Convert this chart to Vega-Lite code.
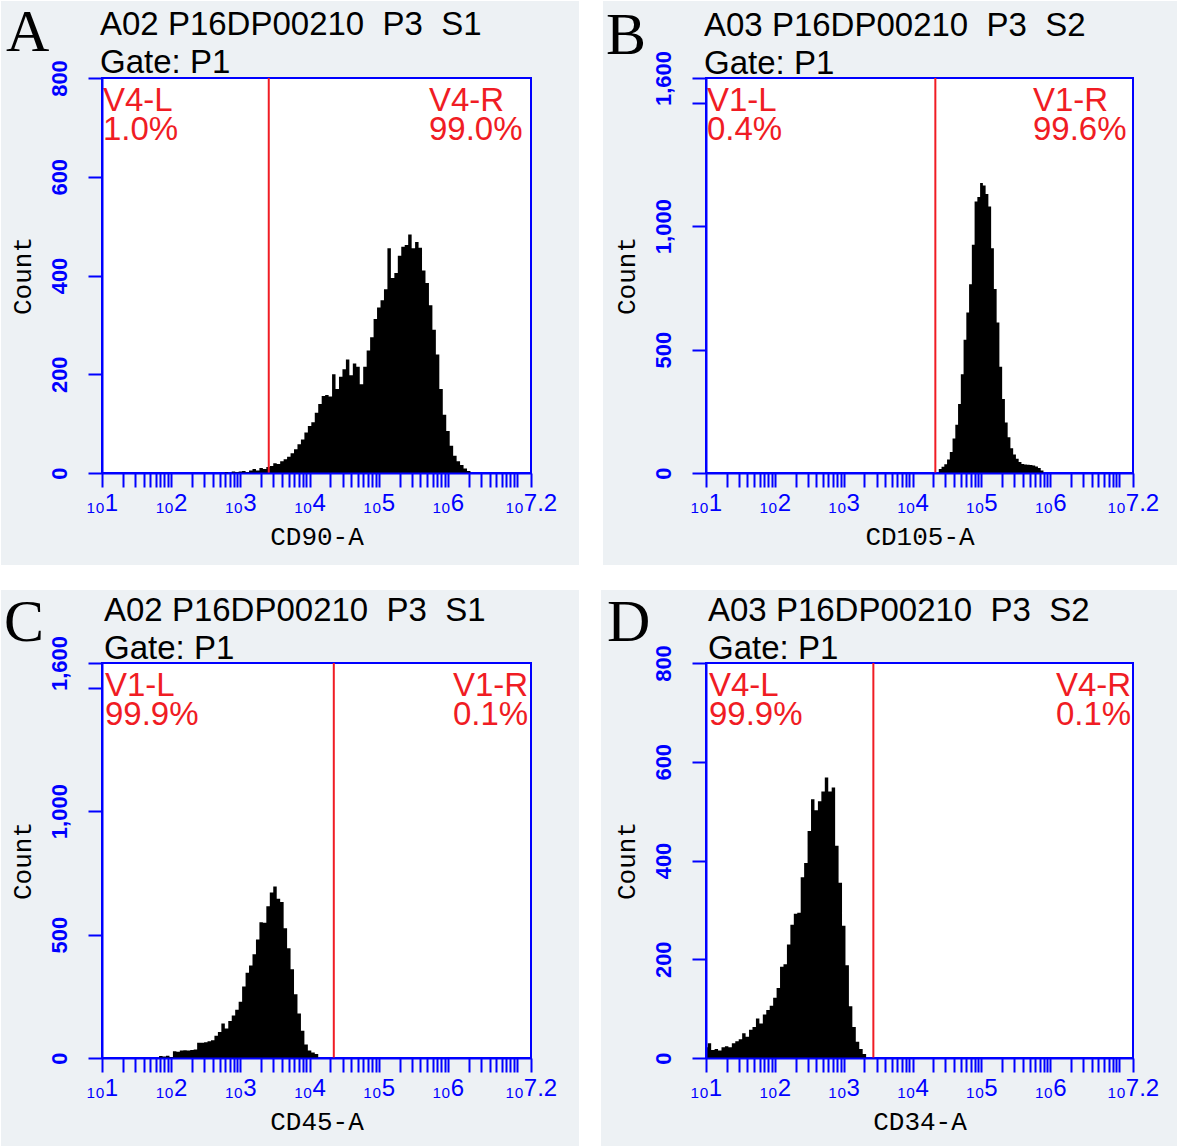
{
  "$schema": "https://vega.github.io/schema/vega-lite/v6.json",
  "autosize": {"type": "pad"},
  "padding": 0,
  "background": "white",
  "bounds": "flush",
  "columns": 2,
  "spacing": {"row": 190, "column": 175},
  "datasets": {
    "histA": [
      {"decade": 2.75, "count": 0}, {"decade": 2.80, "count": 2}, {"decade": 2.85, "count": 0}, {"decade": 2.90, "count": 3},
      {"decade": 2.95, "count": 2}, {"decade": 3.00, "count": 3}, {"decade": 3.05, "count": 4}, {"decade": 3.10, "count": 2},
      {"decade": 3.15, "count": 5}, {"decade": 3.20, "count": 8}, {"decade": 3.25, "count": 5}, {"decade": 3.30, "count": 10},
      {"decade": 3.35, "count": 8}, {"decade": 3.40, "count": 12}, {"decade": 3.45, "count": 14}, {"decade": 3.50, "count": 20},
      {"decade": 3.55, "count": 18}, {"decade": 3.60, "count": 24}, {"decade": 3.65, "count": 28}, {"decade": 3.70, "count": 33},
      {"decade": 3.75, "count": 40}, {"decade": 3.80, "count": 48}, {"decade": 3.85, "count": 58}, {"decade": 3.90, "count": 68},
      {"decade": 3.95, "count": 82}, {"decade": 4.00, "count": 95}, {"decade": 4.05, "count": 103}, {"decade": 4.10, "count": 122},
      {"decade": 4.15, "count": 140}, {"decade": 4.20, "count": 156}, {"decade": 4.25, "count": 158}, {"decade": 4.30, "count": 155},
      {"decade": 4.35, "count": 200}, {"decade": 4.40, "count": 170}, {"decade": 4.45, "count": 195}, {"decade": 4.50, "count": 210},
      {"decade": 4.55, "count": 230}, {"decade": 4.60, "count": 198}, {"decade": 4.65, "count": 222}, {"decade": 4.70, "count": 215},
      {"decade": 4.75, "count": 180}, {"decade": 4.80, "count": 215}, {"decade": 4.85, "count": 248}, {"decade": 4.90, "count": 275},
      {"decade": 4.95, "count": 312}, {"decade": 5.00, "count": 335}, {"decade": 5.05, "count": 350}, {"decade": 5.10, "count": 372},
      {"decade": 5.15, "count": 455}, {"decade": 5.20, "count": 395}, {"decade": 5.25, "count": 405}, {"decade": 5.30, "count": 440},
      {"decade": 5.35, "count": 458}, {"decade": 5.40, "count": 462}, {"decade": 5.45, "count": 483}, {"decade": 5.50, "count": 455},
      {"decade": 5.55, "count": 468}, {"decade": 5.60, "count": 456}, {"decade": 5.65, "count": 410}, {"decade": 5.70, "count": 385},
      {"decade": 5.75, "count": 340}, {"decade": 5.80, "count": 290}, {"decade": 5.85, "count": 240}, {"decade": 5.90, "count": 170},
      {"decade": 5.95, "count": 118}, {"decade": 6.00, "count": 85}, {"decade": 6.05, "count": 55}, {"decade": 6.10, "count": 35},
      {"decade": 6.15, "count": 24}, {"decade": 6.20, "count": 16}, {"decade": 6.25, "count": 9}, {"decade": 6.30, "count": 4},
      {"decade": 6.35, "count": 0}
    ],
    "histB": [
      {"decade": 4.36, "count": 0}, {"decade": 4.40, "count": 16}, {"decade": 4.44, "count": 25}, {"decade": 4.48, "count": 35},
      {"decade": 4.52, "count": 55}, {"decade": 4.56, "count": 85}, {"decade": 4.60, "count": 140}, {"decade": 4.64, "count": 195},
      {"decade": 4.68, "count": 280}, {"decade": 4.72, "count": 400}, {"decade": 4.76, "count": 540}, {"decade": 4.80, "count": 650},
      {"decade": 4.84, "count": 765}, {"decade": 4.88, "count": 925}, {"decade": 4.92, "count": 1100}, {"decade": 4.96, "count": 1118},
      {"decade": 5.00, "count": 1175}, {"decade": 5.04, "count": 1165}, {"decade": 5.08, "count": 1130}, {"decade": 5.12, "count": 1080},
      {"decade": 5.16, "count": 910}, {"decade": 5.20, "count": 745}, {"decade": 5.24, "count": 610}, {"decade": 5.28, "count": 430},
      {"decade": 5.32, "count": 300}, {"decade": 5.36, "count": 205}, {"decade": 5.40, "count": 145}, {"decade": 5.44, "count": 100},
      {"decade": 5.48, "count": 75}, {"decade": 5.52, "count": 58}, {"decade": 5.56, "count": 45}, {"decade": 5.60, "count": 36},
      {"decade": 5.64, "count": 34}, {"decade": 5.68, "count": 33}, {"decade": 5.72, "count": 32}, {"decade": 5.76, "count": 30},
      {"decade": 5.80, "count": 26}, {"decade": 5.84, "count": 20}, {"decade": 5.88, "count": 10}, {"decade": 5.92, "count": 0}
    ],
    "histC": [
      {"decade": 1.80, "count": 0}, {"decade": 1.85, "count": 8}, {"decade": 1.90, "count": 6}, {"decade": 1.95, "count": 9},
      {"decade": 2.00, "count": 4}, {"decade": 2.05, "count": 27}, {"decade": 2.10, "count": 25}, {"decade": 2.15, "count": 30},
      {"decade": 2.20, "count": 31}, {"decade": 2.25, "count": 30}, {"decade": 2.30, "count": 32}, {"decade": 2.35, "count": 34},
      {"decade": 2.40, "count": 62}, {"decade": 2.45, "count": 62}, {"decade": 2.50, "count": 64}, {"decade": 2.55, "count": 68},
      {"decade": 2.60, "count": 72}, {"decade": 2.65, "count": 90}, {"decade": 2.70, "count": 105}, {"decade": 2.75, "count": 140},
      {"decade": 2.80, "count": 120}, {"decade": 2.85, "count": 150}, {"decade": 2.90, "count": 172}, {"decade": 2.95, "count": 195},
      {"decade": 3.00, "count": 228}, {"decade": 3.05, "count": 290}, {"decade": 3.10, "count": 345}, {"decade": 3.15, "count": 375},
      {"decade": 3.20, "count": 420}, {"decade": 3.25, "count": 480}, {"decade": 3.30, "count": 550}, {"decade": 3.35, "count": 548},
      {"decade": 3.40, "count": 615}, {"decade": 3.45, "count": 670}, {"decade": 3.50, "count": 695}, {"decade": 3.55, "count": 645},
      {"decade": 3.60, "count": 632}, {"decade": 3.65, "count": 526}, {"decade": 3.70, "count": 445}, {"decade": 3.75, "count": 360},
      {"decade": 3.80, "count": 258}, {"decade": 3.85, "count": 180}, {"decade": 3.90, "count": 110}, {"decade": 3.95, "count": 55},
      {"decade": 4.00, "count": 30}, {"decade": 4.05, "count": 22}, {"decade": 4.10, "count": 16}, {"decade": 4.15, "count": 0}
    ],
    "histD": [
      {"decade": 1.00, "count": 22}, {"decade": 1.05, "count": 30}, {"decade": 1.10, "count": 16}, {"decade": 1.15, "count": 18},
      {"decade": 1.20, "count": 15}, {"decade": 1.25, "count": 22}, {"decade": 1.30, "count": 24}, {"decade": 1.35, "count": 22},
      {"decade": 1.40, "count": 30}, {"decade": 1.45, "count": 34}, {"decade": 1.50, "count": 38}, {"decade": 1.55, "count": 50},
      {"decade": 1.60, "count": 43}, {"decade": 1.65, "count": 57}, {"decade": 1.70, "count": 63}, {"decade": 1.75, "count": 80},
      {"decade": 1.80, "count": 70}, {"decade": 1.85, "count": 88}, {"decade": 1.90, "count": 97}, {"decade": 1.95, "count": 106},
      {"decade": 2.00, "count": 122}, {"decade": 2.05, "count": 142}, {"decade": 2.10, "count": 185}, {"decade": 2.15, "count": 190},
      {"decade": 2.20, "count": 230}, {"decade": 2.25, "count": 270}, {"decade": 2.30, "count": 292}, {"decade": 2.35, "count": 294},
      {"decade": 2.40, "count": 366}, {"decade": 2.45, "count": 395}, {"decade": 2.50, "count": 460}, {"decade": 2.55, "count": 524},
      {"decade": 2.60, "count": 502}, {"decade": 2.65, "count": 520}, {"decade": 2.70, "count": 540}, {"decade": 2.75, "count": 568},
      {"decade": 2.80, "count": 540}, {"decade": 2.85, "count": 548}, {"decade": 2.90, "count": 430}, {"decade": 2.95, "count": 355},
      {"decade": 3.00, "count": 268}, {"decade": 3.05, "count": 188}, {"decade": 3.10, "count": 105}, {"decade": 3.15, "count": 63},
      {"decade": 3.20, "count": 33}, {"decade": 3.25, "count": 18}, {"decade": 3.30, "count": 8}, {"decade": 3.35, "count": 0}
    ]
  },
  "concat": [
    {
      "width": 429, "height": 395,
      "layer": [
        {"data": {"values": [{}]}, "mark": {"type": "rect", "fill": "#edf1f4"},
         "encoding": {"x": {"datum": -0.46, "type": "quantitative", "scale": {"domain": [1, 7.2], "nice": false, "zero": false}}, "x2": {"datum": 7.894},
                      "y": {"datum": -186.3, "type": "quantitative", "scale": {"domain": [0, 800], "nice": false, "zero": false}}, "y2": {"datum": 955.9}}},
        {"data": {"values": [{}]}, "mark": {"type": "rect", "fill": "white", "stroke": "#0000ff", "strokeWidth": 2},
         "encoding": {"x": {"datum": 1, "type": "quantitative", "scale": {"domain": [1, 7.2], "nice": false, "zero": false}}, "x2": {"datum": 7.2},
                      "y": {"datum": 0, "type": "quantitative", "scale": {"domain": [0, 800], "nice": false, "zero": false}}, "y2": {"datum": 800}}},
        {"data": {"name": "histA"}, "mark": {"type": "area", "interpolate": "step", "fill": "black", "opacity": 1},
         "encoding": {
           "x": {"field": "decade", "type": "quantitative", "scale": {"domain": [1, 7.2], "nice": false, "zero": false},
                 "axis": {"zindex": 2, "tickCount": 200, "title": "CD90-A", "values": [1,1.30103,1.47712,1.60206,1.69897,1.77815,1.8451,1.90309,1.95424,2,2.30103,2.47712,2.60206,2.69897,2.77815,2.8451,2.90309,2.95424,3,3.30103,3.47712,3.60206,3.69897,3.77815,3.8451,3.90309,3.95424,4,4.30103,4.47712,4.60206,4.69897,4.77815,4.8451,4.90309,4.95424,5,5.30103,5.47712,5.60206,5.69897,5.77815,5.8451,5.90309,5.95424,6,6.30103,6.47712,6.60206,6.69897,6.77815,6.8451,6.90309,6.95424,7,7.2],
                          "labelExpr": "(datum.value == floor(datum.value) && datum.value < 7) || datum.value == 7.2 ? '\u2081\u2080' + datum.value : ''"}},
           "y": {"field": "count", "type": "quantitative", "scale": {"domain": [0, 800], "nice": false, "zero": false},
                 "axis": {"zindex": 2, "title": "Count", "values": [0, 200, 400, 600, 800], "format": ",d"}}}},
        {"data": {"values": [{}]}, "mark": {"type": "rule", "stroke": "#f01c24", "strokeWidth": 2},
         "encoding": {"x": {"datum": 3.41, "type": "quantitative", "scale": {"domain": [1, 7.2], "nice": false, "zero": false}}}},
        {"data": {"values": [{}]}, "mark": {"type": "text", "text": "A", "font": "Liberation Serif", "fontSize": 60, "align": "left", "baseline": "alphabetic", "dx": -96, "dy": -27, "fill": "black"},
         "encoding": {"x": {"datum": 1, "type": "quantitative", "scale": {"domain": [1, 7.2], "nice": false, "zero": false}},
                      "y": {"datum": 800, "type": "quantitative", "scale": {"domain": [0, 800], "nice": false, "zero": false}}}},
        {"data": {"values": [{}]}, "mark": {"type": "text", "text": ["A02 P16DP00210 \u00a0P3 \u00a0S1", "Gate: P1"], "font": "Liberation Sans", "fontSize": 33, "lineHeight": 38, "align": "left", "baseline": "alphabetic", "dx": -2, "dy": -43, "fill": "black"},
         "encoding": {"x": {"datum": 1, "type": "quantitative", "scale": {"domain": [1, 7.2], "nice": false, "zero": false}},
                      "y": {"datum": 800, "type": "quantitative", "scale": {"domain": [0, 800], "nice": false, "zero": false}}}},
        {"data": {"values": [{}]}, "mark": {"type": "text", "text": ["V4-L", "1.0%"], "font": "Liberation Sans", "fontSize": 33, "lineHeight": 29, "align": "left", "baseline": "alphabetic", "dx": 1, "dy": 33, "fill": "#f01c24"},
         "encoding": {"x": {"datum": 1, "type": "quantitative", "scale": {"domain": [1, 7.2], "nice": false, "zero": false}},
                      "y": {"datum": 800, "type": "quantitative", "scale": {"domain": [0, 800], "nice": false, "zero": false}}}},
        {"data": {"values": [{}]}, "mark": {"type": "text", "text": ["V4-R", "99.0%"], "font": "Liberation Sans", "fontSize": 33, "lineHeight": 29, "align": "left", "baseline": "alphabetic", "dx": -102, "dy": 33, "fill": "#f01c24"},
         "encoding": {"x": {"datum": 7.2, "type": "quantitative", "scale": {"domain": [1, 7.2], "nice": false, "zero": false}},
                      "y": {"datum": 800, "type": "quantitative", "scale": {"domain": [0, 800], "nice": false, "zero": false}}}}
      ]
    },
    {
      "width": 427, "height": 395,
      "layer": [
        {"data": {"values": [{}]}, "mark": {"type": "rect", "fill": "#edf1f4"},
         "encoding": {"x": {"datum": -0.496, "type": "quantitative", "scale": {"domain": [1, 7.2], "nice": false, "zero": false}}, "x2": {"datum": 7.839},
                      "y": {"datum": -372.7, "type": "quantitative", "scale": {"domain": [0, 1600], "nice": false, "zero": false}}, "y2": {"datum": 1911.9}}},
        {"data": {"values": [{}]}, "mark": {"type": "rect", "fill": "white", "stroke": "#0000ff", "strokeWidth": 2},
         "encoding": {"x": {"datum": 1, "type": "quantitative", "scale": {"domain": [1, 7.2], "nice": false, "zero": false}}, "x2": {"datum": 7.2},
                      "y": {"datum": 0, "type": "quantitative", "scale": {"domain": [0, 1600], "nice": false, "zero": false}}, "y2": {"datum": 1600}}},
        {"data": {"name": "histB"}, "mark": {"type": "area", "interpolate": "step", "fill": "black", "opacity": 1},
         "encoding": {
           "x": {"field": "decade", "type": "quantitative", "scale": {"domain": [1, 7.2], "nice": false, "zero": false},
                 "axis": {"zindex": 2, "tickCount": 200, "title": "CD105-A", "values": [1,1.30103,1.47712,1.60206,1.69897,1.77815,1.8451,1.90309,1.95424,2,2.30103,2.47712,2.60206,2.69897,2.77815,2.8451,2.90309,2.95424,3,3.30103,3.47712,3.60206,3.69897,3.77815,3.8451,3.90309,3.95424,4,4.30103,4.47712,4.60206,4.69897,4.77815,4.8451,4.90309,4.95424,5,5.30103,5.47712,5.60206,5.69897,5.77815,5.8451,5.90309,5.95424,6,6.30103,6.47712,6.60206,6.69897,6.77815,6.8451,6.90309,6.95424,7,7.2],
                          "labelExpr": "(datum.value == floor(datum.value) && datum.value < 7) || datum.value == 7.2 ? '\u2081\u2080' + datum.value : ''"}},
           "y": {"field": "count", "type": "quantitative", "scale": {"domain": [0, 1600], "nice": false, "zero": false},
                 "axis": {"zindex": 2, "title": "Count", "values": [0, 500, 1000, 1500, 1600], "format": ",d", "labelExpr": "datum.value == 1500 ? '' : datum.label"}}}},
        {"data": {"values": [{}]}, "mark": {"type": "rule", "stroke": "#f01c24", "strokeWidth": 2},
         "encoding": {"x": {"datum": 4.33, "type": "quantitative", "scale": {"domain": [1, 7.2], "nice": false, "zero": false}}}},
        {"data": {"values": [{}]}, "mark": {"type": "text", "text": "B", "font": "Liberation Serif", "fontSize": 60, "align": "left", "baseline": "alphabetic", "dx": -100, "dy": -24, "fill": "black"},
         "encoding": {"x": {"datum": 1, "type": "quantitative", "scale": {"domain": [1, 7.2], "nice": false, "zero": false}},
                      "y": {"datum": 1600, "type": "quantitative", "scale": {"domain": [0, 1600], "nice": false, "zero": false}}}},
        {"data": {"values": [{}]}, "mark": {"type": "text", "text": ["A03 P16DP00210 \u00a0P3 \u00a0S2", "Gate: P1"], "font": "Liberation Sans", "fontSize": 33, "lineHeight": 38, "align": "left", "baseline": "alphabetic", "dx": -2, "dy": -42, "fill": "black"},
         "encoding": {"x": {"datum": 1, "type": "quantitative", "scale": {"domain": [1, 7.2], "nice": false, "zero": false}},
                      "y": {"datum": 1600, "type": "quantitative", "scale": {"domain": [0, 1600], "nice": false, "zero": false}}}},
        {"data": {"values": [{}]}, "mark": {"type": "text", "text": ["V1-L", "0.4%"], "font": "Liberation Sans", "fontSize": 33, "lineHeight": 29, "align": "left", "baseline": "alphabetic", "dx": 1, "dy": 33, "fill": "#f01c24"},
         "encoding": {"x": {"datum": 1, "type": "quantitative", "scale": {"domain": [1, 7.2], "nice": false, "zero": false}},
                      "y": {"datum": 1600, "type": "quantitative", "scale": {"domain": [0, 1600], "nice": false, "zero": false}}}},
        {"data": {"values": [{}]}, "mark": {"type": "text", "text": ["V1-R", "99.6%"], "font": "Liberation Sans", "fontSize": 33, "lineHeight": 29, "align": "left", "baseline": "alphabetic", "dx": -100, "dy": 33, "fill": "#f01c24"},
         "encoding": {"x": {"datum": 7.2, "type": "quantitative", "scale": {"domain": [1, 7.2], "nice": false, "zero": false}},
                      "y": {"datum": 1600, "type": "quantitative", "scale": {"domain": [0, 1600], "nice": false, "zero": false}}}}
      ]
    },
    {
      "width": 429, "height": 395,
      "layer": [
        {"data": {"values": [{}]}, "mark": {"type": "rect", "fill": "#edf1f4"},
         "encoding": {"x": {"datum": -0.46, "type": "quantitative", "scale": {"domain": [1, 7.2], "nice": false, "zero": false}}, "x2": {"datum": 7.894},
                      "y": {"datum": -356.5, "type": "quantitative", "scale": {"domain": [0, 1600], "nice": false, "zero": false}}, "y2": {"datum": 1895.7}}},
        {"data": {"values": [{}]}, "mark": {"type": "rect", "fill": "white", "stroke": "#0000ff", "strokeWidth": 2},
         "encoding": {"x": {"datum": 1, "type": "quantitative", "scale": {"domain": [1, 7.2], "nice": false, "zero": false}}, "x2": {"datum": 7.2},
                      "y": {"datum": 0, "type": "quantitative", "scale": {"domain": [0, 1600], "nice": false, "zero": false}}, "y2": {"datum": 1600}}},
        {"data": {"name": "histC"}, "mark": {"type": "area", "interpolate": "step", "fill": "black", "opacity": 1},
         "encoding": {
           "x": {"field": "decade", "type": "quantitative", "scale": {"domain": [1, 7.2], "nice": false, "zero": false},
                 "axis": {"zindex": 2, "tickCount": 200, "title": "CD45-A", "values": [1,1.30103,1.47712,1.60206,1.69897,1.77815,1.8451,1.90309,1.95424,2,2.30103,2.47712,2.60206,2.69897,2.77815,2.8451,2.90309,2.95424,3,3.30103,3.47712,3.60206,3.69897,3.77815,3.8451,3.90309,3.95424,4,4.30103,4.47712,4.60206,4.69897,4.77815,4.8451,4.90309,4.95424,5,5.30103,5.47712,5.60206,5.69897,5.77815,5.8451,5.90309,5.95424,6,6.30103,6.47712,6.60206,6.69897,6.77815,6.8451,6.90309,6.95424,7,7.2],
                          "labelExpr": "(datum.value == floor(datum.value) && datum.value < 7) || datum.value == 7.2 ? '\u2081\u2080' + datum.value : ''"}},
           "y": {"field": "count", "type": "quantitative", "scale": {"domain": [0, 1600], "nice": false, "zero": false},
                 "axis": {"zindex": 2, "title": "Count", "values": [0, 500, 1000, 1500, 1600], "format": ",d", "labelExpr": "datum.value == 1500 ? '' : datum.label"}}}},
        {"data": {"values": [{}]}, "mark": {"type": "rule", "stroke": "#f01c24", "strokeWidth": 2},
         "encoding": {"x": {"datum": 4.35, "type": "quantitative", "scale": {"domain": [1, 7.2], "nice": false, "zero": false}}}},
        {"data": {"values": [{}]}, "mark": {"type": "text", "text": "C", "font": "Liberation Serif", "fontSize": 60, "align": "left", "baseline": "alphabetic", "dx": -98, "dy": -22, "fill": "black"},
         "encoding": {"x": {"datum": 1, "type": "quantitative", "scale": {"domain": [1, 7.2], "nice": false, "zero": false}},
                      "y": {"datum": 1600, "type": "quantitative", "scale": {"domain": [0, 1600], "nice": false, "zero": false}}}},
        {"data": {"values": [{}]}, "mark": {"type": "text", "text": ["A02 P16DP00210 \u00a0P3 \u00a0S1", "Gate: P1"], "font": "Liberation Sans", "fontSize": 33, "lineHeight": 38, "align": "left", "baseline": "alphabetic", "dx": 2, "dy": -42, "fill": "black"},
         "encoding": {"x": {"datum": 1, "type": "quantitative", "scale": {"domain": [1, 7.2], "nice": false, "zero": false}},
                      "y": {"datum": 1600, "type": "quantitative", "scale": {"domain": [0, 1600], "nice": false, "zero": false}}}},
        {"data": {"values": [{}]}, "mark": {"type": "text", "text": ["V1-L", "99.9%"], "font": "Liberation Sans", "fontSize": 33, "lineHeight": 29, "align": "left", "baseline": "alphabetic", "dx": 3, "dy": 33, "fill": "#f01c24"},
         "encoding": {"x": {"datum": 1, "type": "quantitative", "scale": {"domain": [1, 7.2], "nice": false, "zero": false}},
                      "y": {"datum": 1600, "type": "quantitative", "scale": {"domain": [0, 1600], "nice": false, "zero": false}}}},
        {"data": {"values": [{}]}, "mark": {"type": "text", "text": ["V1-R", "0.1%"], "font": "Liberation Sans", "fontSize": 33, "lineHeight": 29, "align": "left", "baseline": "alphabetic", "dx": -78, "dy": 33, "fill": "#f01c24"},
         "encoding": {"x": {"datum": 7.2, "type": "quantitative", "scale": {"domain": [1, 7.2], "nice": false, "zero": false}},
                      "y": {"datum": 1600, "type": "quantitative", "scale": {"domain": [0, 1600], "nice": false, "zero": false}}}}
      ]
    },
    {
      "width": 427, "height": 395,
      "layer": [
        {"data": {"values": [{}]}, "mark": {"type": "rect", "fill": "#edf1f4"},
         "encoding": {"x": {"datum": -0.525, "type": "quantitative", "scale": {"domain": [1, 7.2], "nice": false, "zero": false}}, "x2": {"datum": 7.839},
                      "y": {"datum": -178.2, "type": "quantitative", "scale": {"domain": [0, 800], "nice": false, "zero": false}}, "y2": {"datum": 947.8}}},
        {"data": {"values": [{}]}, "mark": {"type": "rect", "fill": "white", "stroke": "#0000ff", "strokeWidth": 2},
         "encoding": {"x": {"datum": 1, "type": "quantitative", "scale": {"domain": [1, 7.2], "nice": false, "zero": false}}, "x2": {"datum": 7.2},
                      "y": {"datum": 0, "type": "quantitative", "scale": {"domain": [0, 800], "nice": false, "zero": false}}, "y2": {"datum": 800}}},
        {"data": {"name": "histD"}, "mark": {"type": "area", "interpolate": "step", "fill": "black", "opacity": 1},
         "encoding": {
           "x": {"field": "decade", "type": "quantitative", "scale": {"domain": [1, 7.2], "nice": false, "zero": false},
                 "axis": {"zindex": 2, "tickCount": 200, "title": "CD34-A", "values": [1,1.30103,1.47712,1.60206,1.69897,1.77815,1.8451,1.90309,1.95424,2,2.30103,2.47712,2.60206,2.69897,2.77815,2.8451,2.90309,2.95424,3,3.30103,3.47712,3.60206,3.69897,3.77815,3.8451,3.90309,3.95424,4,4.30103,4.47712,4.60206,4.69897,4.77815,4.8451,4.90309,4.95424,5,5.30103,5.47712,5.60206,5.69897,5.77815,5.8451,5.90309,5.95424,6,6.30103,6.47712,6.60206,6.69897,6.77815,6.8451,6.90309,6.95424,7,7.2],
                          "labelExpr": "(datum.value == floor(datum.value) && datum.value < 7) || datum.value == 7.2 ? '\u2081\u2080' + datum.value : ''"}},
           "y": {"field": "count", "type": "quantitative", "scale": {"domain": [0, 800], "nice": false, "zero": false},
                 "axis": {"zindex": 2, "title": "Count", "values": [0, 200, 400, 600, 800], "format": ",d"}}}},
        {"data": {"values": [{}]}, "mark": {"type": "rule", "stroke": "#f01c24", "strokeWidth": 2},
         "encoding": {"x": {"datum": 3.43, "type": "quantitative", "scale": {"domain": [1, 7.2], "nice": false, "zero": false}}}},
        {"data": {"values": [{}]}, "mark": {"type": "text", "text": "D", "font": "Liberation Serif", "fontSize": 60, "align": "left", "baseline": "alphabetic", "dx": -99, "dy": -22, "fill": "black"},
         "encoding": {"x": {"datum": 1, "type": "quantitative", "scale": {"domain": [1, 7.2], "nice": false, "zero": false}},
                      "y": {"datum": 800, "type": "quantitative", "scale": {"domain": [0, 800], "nice": false, "zero": false}}}},
        {"data": {"values": [{}]}, "mark": {"type": "text", "text": ["A03 P16DP00210 \u00a0P3 \u00a0S2", "Gate: P1"], "font": "Liberation Sans", "fontSize": 33, "lineHeight": 38, "align": "left", "baseline": "alphabetic", "dx": 2, "dy": -42, "fill": "black"},
         "encoding": {"x": {"datum": 1, "type": "quantitative", "scale": {"domain": [1, 7.2], "nice": false, "zero": false}},
                      "y": {"datum": 800, "type": "quantitative", "scale": {"domain": [0, 800], "nice": false, "zero": false}}}},
        {"data": {"values": [{}]}, "mark": {"type": "text", "text": ["V4-L", "99.9%"], "font": "Liberation Sans", "fontSize": 33, "lineHeight": 29, "align": "left", "baseline": "alphabetic", "dx": 3, "dy": 33, "fill": "#f01c24"},
         "encoding": {"x": {"datum": 1, "type": "quantitative", "scale": {"domain": [1, 7.2], "nice": false, "zero": false}},
                      "y": {"datum": 800, "type": "quantitative", "scale": {"domain": [0, 800], "nice": false, "zero": false}}}},
        {"data": {"values": [{}]}, "mark": {"type": "text", "text": ["V4-R", "0.1%"], "font": "Liberation Sans", "fontSize": 33, "lineHeight": 29, "align": "left", "baseline": "alphabetic", "dx": -77, "dy": 33, "fill": "#f01c24"},
         "encoding": {"x": {"datum": 7.2, "type": "quantitative", "scale": {"domain": [1, 7.2], "nice": false, "zero": false}},
                      "y": {"datum": 800, "type": "quantitative", "scale": {"domain": [0, 800], "nice": false, "zero": false}}}}
      ]
    }
  ],
  "config": {
    "view": {"stroke": null},
    "axis": {
      "grid": false,
      "domainColor": "#0000ff", "domainWidth": 2,
      "tickColor": "#0000ff", "tickWidth": 2, "tickSize": 14,
      "labelColor": "#0000ff", "labelFont": "Liberation Sans",
      "labelOverlap": false, "labelFlush": false, "labelBound": false,
      "titleFont": "Liberation Mono", "titleFontSize": 26, "titleFontWeight": "normal", "titleColor": "black"
    },
    "axisX": {"labelFontSize": 24, "labelPadding": 4, "labelDx": -6, "titlePadding": 8},
    "axisY": {"labelFontSize": 22, "labelFontWeight": "bold", "labelAngle": 270, "labelPadding": 17, "titlePadding": 13}
  }
}
